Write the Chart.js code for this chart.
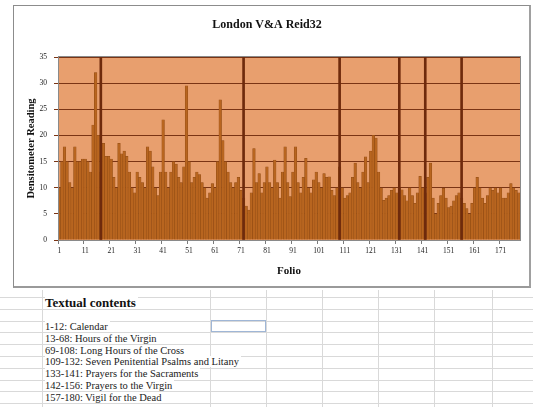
<!DOCTYPE html>
<html>
<head>
<meta charset="utf-8">
<script src="https://cdn.jsdelivr.net/npm/chart.js@4"></script>
<style>
  html, body { margin: 0; padding: 0; background: #fff; width: 533px; height: 407px; overflow: hidden; }
  #sheet { position: absolute; left: 0; top: 297px; width: 533px; height: 110px;
    background-image:
      repeating-linear-gradient(to bottom, #d9d9d9 0, #d9d9d9 1px, transparent 1px, transparent 11.8px);
  }
  .col { position: absolute; top: 290px; height: 117px; width: 1px; background: #d9d9d9; }
  #box { position: absolute; left: 13px; top: 5px; width: 515px; height: 280px;
    border: 1px solid #8c8c8c; border-bottom: 2px solid #9a9a9a; border-right: 2px solid #a0a0a0; background: #fff; }
  #box canvas { position: absolute; left: 0; top: 0; }
  .txt { position: absolute; left: 45px; font-family: "Liberation Serif", serif; font-size: 10.5px; color: #222;
    background: #fff; line-height: 11px; white-space: nowrap; padding-right: 2px; }
  .hdr { font-weight: bold; font-size: 13px; line-height: 13px; color: #111; }
  #sel { position: absolute; left: 211px; top: 320px; width: 55px; height: 12px; border: 1px solid #9fb6d6; box-sizing: border-box; }
</style>
</head>
<body>
<div id="sheet"></div>
<div class="col" style="left:42px"></div>
<div class="col" style="left:210px"></div>
<div class="col" style="left:266px"></div>
<div class="col" style="left:322px"></div>
<div class="col" style="left:378px"></div>
<div class="col" style="left:434px"></div>
<div class="col" style="left:492px"></div>
<div id="sel"></div>
<div id="notes"></div>
<div id="box"><canvas id="c" width="515" height="280"></canvas></div>
<script>
// ---- data ----
const chartTitle = "London V&A Reid32";
const xTitle = "Folio";
const yTitle = "Densitometer Reading";
const folios = Array.from({length: 178}, (_, i) => i + 1);
const readings = [
  10, 15, 17.8, 15, 11, 10, 17.8, 15, 15, 15.5,
  15.5, 15, 13, 22, 32, 20, 13, 18.5, 16, 16,
  15.5, 12, 10, 18.5, 16.5, 17, 16, 13, 10, 9,
  13, 12, 11, 10, 17.8, 17, 14, 10, 8.5, 13,
  23, 13, 10, 13, 15, 14.5, 12, 11, 14, 29.5,
  15, 11, 12, 13, 12.5, 11, 10, 8, 9, 10.8,
  10, 15, 26.8, 19, 15, 13, 11, 10, 11, 12,
  9.5, 8, 6.5, 5.7, 9, 17.5, 11, 12.7, 9, 11,
  14, 11, 10, 15.3, 11, 8, 13, 17.8, 11, 8.3,
  13, 17.8, 11, 9, 12, 15.6, 10, 9, 11.5, 13,
  11, 10, 12.7, 12, 12.1, 9.5, 8.5, 10, 14, 10,
  8, 8.5, 9, 12, 14.7, 11, 10, 13, 15.9, 11,
  17, 20, 19.5, 13, 10, 7.6, 8, 8.5, 9.5, 10,
  9, 10, 9.6, 8.5, 7.5, 10, 8.5, 7, 9, 12.2,
  10, 9, 12, 14.7, 8, 5, 7, 8.5, 9.9, 8,
  6.2, 6.5, 7.5, 8.5, 9, 8, 7, 6, 5, 7,
  10, 12, 10, 8, 7, 8.5, 10, 9.5, 10, 9,
  10, 8, 8, 9, 10.8, 10, 9.5, 9
];
const markerFolios = [17, 72, 109, 132, 142, 156];
const markerLevel = 35;
const yTicks = [0, 5, 10, 15, 20, 25, 30, 35];
const xLabelEvery = 10;
const contentsHeader = "Textual contents";
const contents = [
  "1-12: Calendar",
  "13-68: Hours of the Virgin",
  "69-108: Long Hours of the Cross",
  "109-132: Seven Penitential Psalms and Litany",
  "133-141: Prayers for the Sacraments",
  "142-156: Prayers to the Virgin",
  "157-180: Vigil for the Dead"
];

// ---- spreadsheet text ----
const notes = document.getElementById('notes');
function addTxt(text, top, cls) {
  const d = document.createElement('div');
  d.className = 'txt' + (cls ? ' ' + cls : '');
  d.style.top = top + 'px';
  d.textContent = text;
  notes.appendChild(d);
}
addTxt(contentsHeader, 295.5, 'hdr');
contents.forEach((t, i) => addTxt(t, 321 + i * 11.8));

// ---- chart ----
const markerData = folios.map(f => markerFolios.includes(f) ? markerLevel : null);

const plotBg = {
  id: 'plotBg',
  beforeDraw(chart) {
    const {ctx, chartArea: a} = chart;
    ctx.save();
    ctx.fillStyle = '#E89F6E';
    ctx.fillRect(a.left, a.top, a.right - a.left, a.bottom - a.top);
    ctx.restore();
  },
  afterDraw(chart) {
    const {ctx, chartArea: a} = chart;
    ctx.save();
    ctx.strokeStyle = '#8a8a8a';
    ctx.lineWidth = 1;
    ctx.strokeRect(a.left + 0.5, a.top - 0.5, a.right - a.left, a.bottom - a.top + 1);
    ctx.restore();
  }
};

const serif = "'Liberation Serif', 'Times New Roman', serif";

new Chart(document.getElementById('c'), {
  type: 'bar',
  data: {
    labels: folios,
    datasets: [
      {
        label: 'markers',
        data: markerData,
        backgroundColor: '#6E2A0C',
        borderWidth: 0,
        barThickness: 2,
        grouped: false,
        order: 0
      },
      {
        label: 'reading',
        data: readings,
        backgroundColor: '#B8651F',
        borderColor: '#8E4A14',
        borderWidth: 0.5,
        categoryPercentage: 1,
        barPercentage: 1,
        grouped: false,
        order: 1
      }
    ]
  },
  options: {
    responsive: false,
    animation: false,
    layout: { padding: { left: 0, right: 9, top: 0, bottom: 0 } },
    plugins: {
      legend: { display: false },
      tooltip: { enabled: false },
      title: {
        display: true,
        text: chartTitle,
        color: '#111',
        font: { family: serif, size: 12, weight: 'bold' },
        padding: { top: 12, bottom: 24.6 }
      }
    },
    scales: {
      x: {
        offset: true,
        grid: {
          display: true, drawOnChartArea: false, drawTicks: true, tickLength: 4,
          color: (c) => (c.index % xLabelEvery === 0) ? '#7a7a7a' : 'rgba(0,0,0,0)'
        },
        border: { display: true, color: '#555' },
        ticks: {
          autoSkip: false,
          maxRotation: 0,
          minRotation: 0,
          padding: 3,
          color: '#222',
          font: { family: serif, size: 7.5 },
          callback: function(v, i) { return (i % xLabelEvery === 0) ? String(folios[i]) : ''; }
        },
        title: {
          display: true,
          text: xTitle,
          color: '#111',
          font: { family: serif, size: 11, weight: 'bold' },
          padding: { top: 0, bottom: 8 }
        },
        afterFit(s) { s.height = 46; }
      },
      y: {
        min: 0,
        max: 35,
        afterBuildTicks(s) { s.ticks = yTicks.map(v => ({ value: v })); },
        grid: { color: '#7A3414', lineWidth: 1, tickLength: 4, drawTicks: true },
        border: { display: true, color: '#555' },
        ticks: {
          padding: 7,
          color: '#222',
          font: { family: serif, size: 7.5 }
        },
        title: {
          display: true,
          text: yTitle,
          color: '#111',
          font: { family: serif, size: 10.5, weight: 'bold' },
          padding: { top: 11, bottom: 0 }
        },
        afterFit(s) { s.width = 44; }
      }
    }
  },
  plugins: [plotBg]
});
</script>
</body>
</html>
